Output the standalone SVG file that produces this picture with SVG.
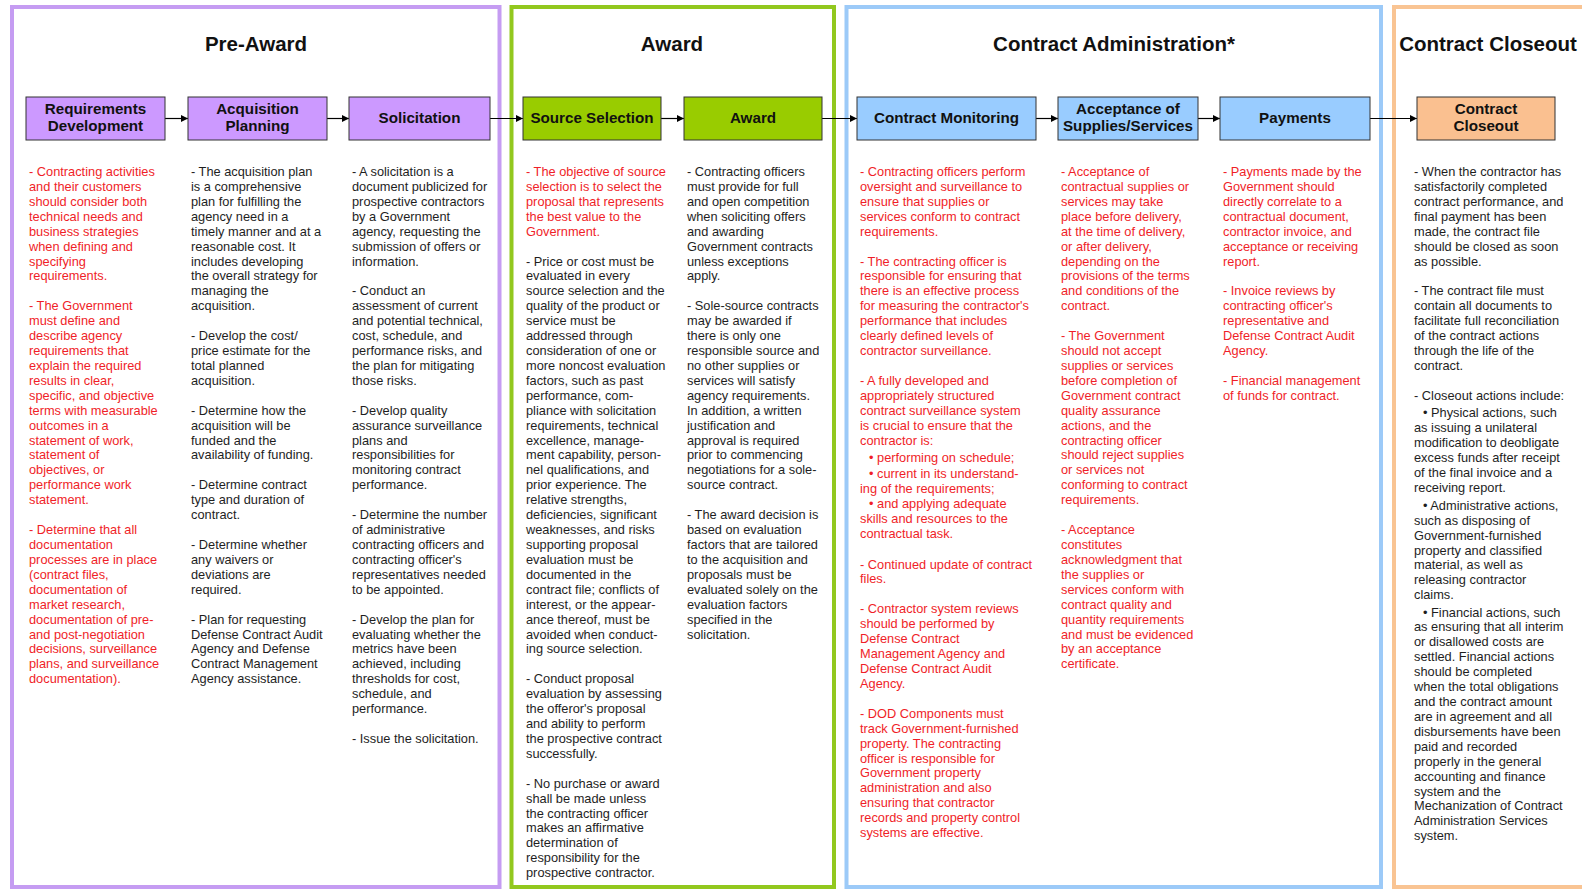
<svg xmlns="http://www.w3.org/2000/svg" width="1582" height="891" viewBox="0 0 1582 891">
<defs>
<marker id="ah" viewBox="0 0 10 10" refX="10" refY="5" markerWidth="7" markerHeight="7" markerUnits="userSpaceOnUse" orient="auto"><path d="M0,0 L10,5 L0,10 z" fill="#000"/></marker>
<style>
.panel{fill:none;stroke-width:4}
.hdr{font-family:"Liberation Sans",Arial,sans-serif;font-weight:bold;font-size:20.5px;fill:#111;text-anchor:middle}
.box{stroke:#333;stroke-width:1}
.bl{font-family:"Liberation Sans",Arial,sans-serif;font-weight:bold;font-size:15.2px;fill:#111;text-anchor:middle}
.tx{font-family:"Liberation Sans",Arial,sans-serif;font-size:12.8px}
.r{fill:#f01e28}
.k{fill:#1e1e1e}
.conn line{stroke:#000;stroke-width:1.2;marker-end:url(#ah)}
</style>
</defs>
<rect width="1582" height="891" fill="#fff"/>

<g id="phase-preaward">
<rect class="panel" x="12" y="7" width="487.5" height="880" stroke="#c59cf2"/>
<text class="hdr" x="256" y="50.5">Pre-Award</text>
</g>
<g id="phase-award">
<rect class="panel" x="511.5" y="7" width="322.5" height="880" stroke="#92c81e"/>
<text class="hdr" x="672" y="50.5">Award</text>
</g>
<g id="phase-admin">
<rect class="panel" x="846.5" y="7" width="534.5" height="880" stroke="#9ccaf8"/>
<text class="hdr" x="1114" y="50.5">Contract Administration*</text>
</g>
<g id="phase-closeout">
<rect class="panel" x="1394" y="7" width="200" height="880" stroke="#f9c493"/>
<text class="hdr" x="1488" y="50.5">Contract Closeout</text>
</g>

<g id="connectors" class="conn">
<line x1="165" y1="118.5" x2="188" y2="118.5"/>
<line x1="327" y1="118.5" x2="349" y2="118.5"/>
<line x1="490" y1="118.5" x2="523" y2="118.5"/>
<line x1="661" y1="118.5" x2="684" y2="118.5"/>
<line x1="822" y1="118.5" x2="857" y2="118.5"/>
<line x1="1036" y1="118.5" x2="1058" y2="118.5"/>
<line x1="1198" y1="118.5" x2="1220" y2="118.5"/>
<line x1="1370" y1="118.5" x2="1417" y2="118.5"/>
</g>

<g id="n-req">
<rect class="box" x="26" y="97" width="139" height="43" fill="#cc99ff"/>
<text class="bl" x="95.5" y="114">Requirements</text>
<text class="bl" x="95.5" y="131">Development</text>
<text class="tx r" x="29" y="176"><tspan x="29" dy="0">- Contracting activities</tspan><tspan x="29" dy="14.92">and their customers</tspan><tspan x="29" dy="14.92">should consider both</tspan><tspan x="29" dy="14.92">technical needs and</tspan><tspan x="29" dy="14.92">business strategies</tspan><tspan x="29" dy="14.92">when defining and</tspan><tspan x="29" dy="14.92">specifying</tspan><tspan x="29" dy="14.92">requirements.</tspan><tspan x="29" dy="29.84">- The Government</tspan><tspan x="29" dy="14.92">must define and</tspan><tspan x="29" dy="14.92">describe agency</tspan><tspan x="29" dy="14.92">requirements that</tspan><tspan x="29" dy="14.92">explain the required</tspan><tspan x="29" dy="14.92">results in clear,</tspan><tspan x="29" dy="14.92">specific, and objective</tspan><tspan x="29" dy="14.92">terms with measurable</tspan><tspan x="29" dy="14.92">outcomes in a</tspan><tspan x="29" dy="14.92">statement of work,</tspan><tspan x="29" dy="14.92">statement of</tspan><tspan x="29" dy="14.92">objectives, or</tspan><tspan x="29" dy="14.92">performance work</tspan><tspan x="29" dy="14.92">statement.</tspan><tspan x="29" dy="29.84">-  Determine that all</tspan><tspan x="29" dy="14.92">documentation</tspan><tspan x="29" dy="14.92">processes are in place</tspan><tspan x="29" dy="14.92">(contract files,</tspan><tspan x="29" dy="14.92">documentation of</tspan><tspan x="29" dy="14.92">market research,</tspan><tspan x="29" dy="14.92">documentation of pre-</tspan><tspan x="29" dy="14.92">and post-negotiation</tspan><tspan x="29" dy="14.92">decisions, surveillance</tspan><tspan x="29" dy="14.92">plans, and surveillance</tspan><tspan x="29" dy="14.92">documentation).</tspan></text>
</g>

<g id="n-acq">
<rect class="box" x="188" y="97" width="139" height="43" fill="#cc99ff"/>
<text class="bl" x="257.5" y="114">Acquisition</text>
<text class="bl" x="257.5" y="131">Planning</text>
<text class="tx k" x="191" y="176"><tspan x="191" dy="0">- The acquisition plan</tspan><tspan x="191" dy="14.92">is a comprehensive</tspan><tspan x="191" dy="14.92">plan for fulfilling the</tspan><tspan x="191" dy="14.92">agency need in a</tspan><tspan x="191" dy="14.92">timely manner and at a</tspan><tspan x="191" dy="14.92">reasonable cost. It</tspan><tspan x="191" dy="14.92">includes developing</tspan><tspan x="191" dy="14.92">the overall strategy for</tspan><tspan x="191" dy="14.92">managing the</tspan><tspan x="191" dy="14.92">acquisition.</tspan><tspan x="191" dy="29.84">- Develop the cost/</tspan><tspan x="191" dy="14.92">price estimate for the</tspan><tspan x="191" dy="14.92">total planned</tspan><tspan x="191" dy="14.92">acquisition.</tspan><tspan x="191" dy="29.84">- Determine how the</tspan><tspan x="191" dy="14.92">acquisition will be</tspan><tspan x="191" dy="14.92">funded and the</tspan><tspan x="191" dy="14.92">availability of funding.</tspan><tspan x="191" dy="29.84">- Determine contract</tspan><tspan x="191" dy="14.92">type and duration of</tspan><tspan x="191" dy="14.92">contract.</tspan><tspan x="191" dy="29.84">- Determine whether</tspan><tspan x="191" dy="14.92">any waivers or</tspan><tspan x="191" dy="14.92">deviations are</tspan><tspan x="191" dy="14.92">required.</tspan><tspan x="191" dy="29.84">- Plan for requesting</tspan><tspan x="191" dy="14.92">Defense Contract Audit</tspan><tspan x="191" dy="14.92">Agency and Defense</tspan><tspan x="191" dy="14.92">Contract Management</tspan><tspan x="191" dy="14.92">Agency assistance.</tspan></text>
</g>

<g id="n-sol">
<rect class="box" x="349" y="97" width="141" height="43" fill="#cc99ff"/>
<text class="bl" x="419.5" y="122.5">Solicitation</text>
<text class="tx k" x="352" y="176"><tspan x="352" dy="0">- A solicitation is a</tspan><tspan x="352" dy="14.92">document publicized for</tspan><tspan x="352" dy="14.92">prospective contractors</tspan><tspan x="352" dy="14.92">by a Government</tspan><tspan x="352" dy="14.92">agency, requesting the</tspan><tspan x="352" dy="14.92">submission of offers or</tspan><tspan x="352" dy="14.92">information.</tspan><tspan x="352" dy="29.84">- Conduct an</tspan><tspan x="352" dy="14.92">assessment of current</tspan><tspan x="352" dy="14.92">and potential technical,</tspan><tspan x="352" dy="14.92">cost, schedule, and</tspan><tspan x="352" dy="14.92">performance risks, and</tspan><tspan x="352" dy="14.92">the plan for mitigating</tspan><tspan x="352" dy="14.92">those risks.</tspan><tspan x="352" dy="29.84">- Develop quality</tspan><tspan x="352" dy="14.92">assurance surveillance</tspan><tspan x="352" dy="14.92">plans and</tspan><tspan x="352" dy="14.92">responsibilities for</tspan><tspan x="352" dy="14.92">monitoring contract</tspan><tspan x="352" dy="14.92">performance.</tspan><tspan x="352" dy="29.84">- Determine the number</tspan><tspan x="352" dy="14.92">of administrative</tspan><tspan x="352" dy="14.92">contracting officers and</tspan><tspan x="352" dy="14.92">contracting officer's</tspan><tspan x="352" dy="14.92">representatives needed</tspan><tspan x="352" dy="14.92">to be appointed.</tspan><tspan x="352" dy="29.84">- Develop the plan for</tspan><tspan x="352" dy="14.92">evaluating whether the</tspan><tspan x="352" dy="14.92">metrics have been</tspan><tspan x="352" dy="14.92">achieved, including</tspan><tspan x="352" dy="14.92">thresholds for cost,</tspan><tspan x="352" dy="14.92">schedule, and</tspan><tspan x="352" dy="14.92">performance.</tspan><tspan x="352" dy="29.84">- Issue the solicitation.</tspan></text>
</g>

<g id="n-srcsel">
<rect class="box" x="523" y="97" width="138" height="43" fill="#99cc00"/>
<text class="bl" x="592" y="122.5">Source Selection</text>
<text class="tx r" x="526" y="176"><tspan x="526" dy="0">- The objective of source</tspan><tspan x="526" dy="14.92">selection is to select the</tspan><tspan x="526" dy="14.92">proposal that represents</tspan><tspan x="526" dy="14.92">the best value to the</tspan><tspan x="526" dy="14.92">Government.</tspan></text>
<text class="tx k" x="526" y="265.5"><tspan x="526" dy="0">- Price or cost must be</tspan><tspan x="526" dy="14.92">evaluated in every</tspan><tspan x="526" dy="14.92">source selection and the</tspan><tspan x="526" dy="14.92">quality of the product or</tspan><tspan x="526" dy="14.92">service must be</tspan><tspan x="526" dy="14.92">addressed through</tspan><tspan x="526" dy="14.92">consideration of one or</tspan><tspan x="526" dy="14.92">more noncost evaluation</tspan><tspan x="526" dy="14.92">factors, such as past</tspan><tspan x="526" dy="14.92">performance, com-</tspan><tspan x="526" dy="14.92">pliance with solicitation</tspan><tspan x="526" dy="14.92">requirements, technical</tspan><tspan x="526" dy="14.92">excellence, manage-</tspan><tspan x="526" dy="14.92">ment capability, person-</tspan><tspan x="526" dy="14.92">nel qualifications, and</tspan><tspan x="526" dy="14.92">prior experience. The</tspan><tspan x="526" dy="14.92">relative strengths,</tspan><tspan x="526" dy="14.92">deficiencies, significant</tspan><tspan x="526" dy="14.92">weaknesses, and risks</tspan><tspan x="526" dy="14.92">supporting proposal</tspan><tspan x="526" dy="14.92">evaluation must be</tspan><tspan x="526" dy="14.92">documented in the</tspan><tspan x="526" dy="14.92">contract file; conflicts of</tspan><tspan x="526" dy="14.92">interest, or the appear-</tspan><tspan x="526" dy="14.92">ance thereof, must be</tspan><tspan x="526" dy="14.92">avoided when conduct-</tspan><tspan x="526" dy="14.92">ing source selection.</tspan><tspan x="526" dy="29.84">- Conduct proposal</tspan><tspan x="526" dy="14.92">evaluation by assessing</tspan><tspan x="526" dy="14.92">the offeror's proposal</tspan><tspan x="526" dy="14.92">and ability to perform</tspan><tspan x="526" dy="14.92">the prospective contract</tspan><tspan x="526" dy="14.92">successfully.</tspan><tspan x="526" dy="29.84">- No purchase or award</tspan><tspan x="526" dy="14.92">shall be made unless</tspan><tspan x="526" dy="14.92">the contracting officer</tspan><tspan x="526" dy="14.92">makes an affirmative</tspan><tspan x="526" dy="14.92">determination of</tspan><tspan x="526" dy="14.92">responsibility for the</tspan><tspan x="526" dy="14.92">prospective contractor.</tspan></text>
</g>

<g id="n-award">
<rect class="box" x="684" y="97" width="138" height="43" fill="#99cc00"/>
<text class="bl" x="753" y="122.5">Award</text>
<text class="tx k" x="687" y="176"><tspan x="687" dy="0">- Contracting officers</tspan><tspan x="687" dy="14.92">must provide for full</tspan><tspan x="687" dy="14.92">and open competition</tspan><tspan x="687" dy="14.92">when soliciting offers</tspan><tspan x="687" dy="14.92">and awarding</tspan><tspan x="687" dy="14.92">Government contracts</tspan><tspan x="687" dy="14.92">unless exceptions</tspan><tspan x="687" dy="14.92">apply.</tspan><tspan x="687" dy="29.84">- Sole-source contracts</tspan><tspan x="687" dy="14.92">may be awarded if</tspan><tspan x="687" dy="14.92">there is only one</tspan><tspan x="687" dy="14.92">responsible source and</tspan><tspan x="687" dy="14.92">no other supplies or</tspan><tspan x="687" dy="14.92">services will satisfy</tspan><tspan x="687" dy="14.92">agency requirements.</tspan><tspan x="687" dy="14.92">In addition, a written</tspan><tspan x="687" dy="14.92">justification and</tspan><tspan x="687" dy="14.92">approval is required</tspan><tspan x="687" dy="14.92">prior to commencing</tspan><tspan x="687" dy="14.92">negotiations for a sole-</tspan><tspan x="687" dy="14.92">source contract.</tspan><tspan x="687" dy="29.84">- The award decision is</tspan><tspan x="687" dy="14.92">based on evaluation</tspan><tspan x="687" dy="14.92">factors that are tailored</tspan><tspan x="687" dy="14.92">to the acquisition and</tspan><tspan x="687" dy="14.92">proposals must be</tspan><tspan x="687" dy="14.92">evaluated solely on the</tspan><tspan x="687" dy="14.92">evaluation factors</tspan><tspan x="687" dy="14.92">specified in the</tspan><tspan x="687" dy="14.92">solicitation.</tspan></text>
</g>

<g id="n-monitor">
<rect class="box" x="857" y="97" width="179" height="43" fill="#99ccff"/>
<text class="bl" x="946.5" y="122.5">Contract Monitoring</text>
<text class="tx r" x="860" y="176"><tspan x="860" dy="0">- Contracting officers perform</tspan><tspan x="860" dy="14.92">oversight and surveillance to</tspan><tspan x="860" dy="14.92">ensure that supplies or</tspan><tspan x="860" dy="14.92">services conform to contract</tspan><tspan x="860" dy="14.92">requirements.</tspan><tspan x="860" dy="29.84">- The contracting officer is</tspan><tspan x="860" dy="14.92">responsible for ensuring that</tspan><tspan x="860" dy="14.92">there is an effective process</tspan><tspan x="860" dy="14.92">for measuring the contractor's</tspan><tspan x="860" dy="14.92">performance that includes</tspan><tspan x="860" dy="14.92">clearly defined levels of</tspan><tspan x="860" dy="14.92">contractor surveillance.</tspan><tspan x="860" dy="29.84">- A fully developed and</tspan><tspan x="860" dy="14.92">appropriately structured</tspan><tspan x="860" dy="14.92">contract surveillance system</tspan><tspan x="860" dy="14.92">is crucial to ensure that the</tspan><tspan x="860" dy="14.92">contractor is:</tspan><tspan x="869" dy="17">• performing on schedule;</tspan><tspan x="869" dy="16">• current in its understand-</tspan><tspan x="860" dy="15">ing of the requirements;</tspan><tspan x="869" dy="15.5">• and applying adequate</tspan><tspan x="860" dy="15">skills and resources to the</tspan><tspan x="860" dy="15">contractual task.</tspan><tspan x="860" dy="30.5">- Continued update of contract</tspan><tspan x="860" dy="14.92">files.</tspan><tspan x="860" dy="29.84">- Contractor system reviews</tspan><tspan x="860" dy="14.92">should be performed by</tspan><tspan x="860" dy="14.92">Defense Contract</tspan><tspan x="860" dy="14.92">Management Agency and</tspan><tspan x="860" dy="14.92">Defense Contract Audit</tspan><tspan x="860" dy="14.92">Agency.</tspan><tspan x="860" dy="29.84">- DOD Components must</tspan><tspan x="860" dy="14.92">track Government-furnished</tspan><tspan x="860" dy="14.92">property.  The contracting</tspan><tspan x="860" dy="14.92">officer is responsible for</tspan><tspan x="860" dy="14.92">Government property</tspan><tspan x="860" dy="14.92">administration and also</tspan><tspan x="860" dy="14.92">ensuring that contractor</tspan><tspan x="860" dy="14.92">records and property control</tspan><tspan x="860" dy="14.92">systems are effective.</tspan></text>
</g>

<g id="n-accept">
<rect class="box" x="1058" y="97" width="140" height="43" fill="#99ccff"/>
<text class="bl" x="1128" y="114">Acceptance of</text>
<text class="bl" x="1128" y="131">Supplies/Services</text>
<text class="tx r" x="1061" y="176"><tspan x="1061" dy="0">- Acceptance of</tspan><tspan x="1061" dy="14.92">contractual supplies or</tspan><tspan x="1061" dy="14.92">services may take</tspan><tspan x="1061" dy="14.92">place before delivery,</tspan><tspan x="1061" dy="14.92">at the time of delivery,</tspan><tspan x="1061" dy="14.92">or after delivery,</tspan><tspan x="1061" dy="14.92">depending on the</tspan><tspan x="1061" dy="14.92">provisions of the terms</tspan><tspan x="1061" dy="14.92">and conditions of the</tspan><tspan x="1061" dy="14.92">contract.</tspan><tspan x="1061" dy="29.84">- The Government</tspan><tspan x="1061" dy="14.92">should not accept</tspan><tspan x="1061" dy="14.92">supplies or services</tspan><tspan x="1061" dy="14.92">before completion of</tspan><tspan x="1061" dy="14.92">Government contract</tspan><tspan x="1061" dy="14.92">quality assurance</tspan><tspan x="1061" dy="14.92">actions, and the</tspan><tspan x="1061" dy="14.92">contracting officer</tspan><tspan x="1061" dy="14.92">should reject supplies</tspan><tspan x="1061" dy="14.92">or services not</tspan><tspan x="1061" dy="14.92">conforming to contract</tspan><tspan x="1061" dy="14.92">requirements.</tspan><tspan x="1061" dy="29.84">- Acceptance</tspan><tspan x="1061" dy="14.92">constitutes</tspan><tspan x="1061" dy="14.92">acknowledgment that</tspan><tspan x="1061" dy="14.92">the supplies or</tspan><tspan x="1061" dy="14.92">services conform with</tspan><tspan x="1061" dy="14.92">contract quality and</tspan><tspan x="1061" dy="14.92">quantity requirements</tspan><tspan x="1061" dy="14.92">and must be evidenced</tspan><tspan x="1061" dy="14.92">by an acceptance</tspan><tspan x="1061" dy="14.92">certificate.</tspan></text>
</g>

<g id="n-pay">
<rect class="box" x="1220" y="97" width="150" height="43" fill="#99ccff"/>
<text class="bl" x="1295" y="122.5">Payments</text>
<text class="tx r" x="1223" y="176"><tspan x="1223" dy="0">- Payments made by the</tspan><tspan x="1223" dy="14.92">Government should</tspan><tspan x="1223" dy="14.92">directly correlate to a</tspan><tspan x="1223" dy="14.92">contractual document,</tspan><tspan x="1223" dy="14.92">contractor invoice, and</tspan><tspan x="1223" dy="14.92">acceptance or receiving</tspan><tspan x="1223" dy="14.92">report.</tspan><tspan x="1223" dy="29.84">- Invoice reviews by</tspan><tspan x="1223" dy="14.92">contracting officer's</tspan><tspan x="1223" dy="14.92">representative and</tspan><tspan x="1223" dy="14.92">Defense Contract Audit</tspan><tspan x="1223" dy="14.92">Agency.</tspan><tspan x="1223" dy="29.84">- Financial management</tspan><tspan x="1223" dy="14.92">of funds for contract.</tspan></text>
</g>

<g id="n-closeout">
<rect class="box" x="1417" y="97" width="138" height="43" fill="#fac090"/>
<text class="bl" x="1486" y="114">Contract</text>
<text class="bl" x="1486" y="131">Closeout</text>
<text class="tx k" x="1414" y="176"><tspan x="1414" dy="0">- When the contractor has</tspan><tspan x="1414" dy="14.92">satisfactorily completed</tspan><tspan x="1414" dy="14.92">contract performance, and</tspan><tspan x="1414" dy="14.92">final payment has been</tspan><tspan x="1414" dy="14.92">made, the contract file</tspan><tspan x="1414" dy="14.92">should be closed as soon</tspan><tspan x="1414" dy="14.92">as possible.</tspan><tspan x="1414" dy="29.84">- The contract file must</tspan><tspan x="1414" dy="14.92">contain all documents to</tspan><tspan x="1414" dy="14.92">facilitate full reconciliation</tspan><tspan x="1414" dy="14.92">of the contract actions</tspan><tspan x="1414" dy="14.92">through the life of the</tspan><tspan x="1414" dy="14.92">contract.</tspan><tspan x="1414" dy="29.84">- Closeout actions include:</tspan><tspan x="1423" dy="17.2">• Physical actions, such</tspan><tspan x="1414" dy="14.92">as issuing a unilateral</tspan><tspan x="1414" dy="14.92">modification to deobligate</tspan><tspan x="1414" dy="14.92">excess funds after receipt</tspan><tspan x="1414" dy="14.92">of the final invoice and a</tspan><tspan x="1414" dy="14.92">receiving report.</tspan><tspan x="1423" dy="18.2">• Administrative actions,</tspan><tspan x="1414" dy="14.92">such as disposing of</tspan><tspan x="1414" dy="14.92">Government-furnished</tspan><tspan x="1414" dy="14.92">property and classified</tspan><tspan x="1414" dy="14.92">material, as well as</tspan><tspan x="1414" dy="14.92">releasing contractor</tspan><tspan x="1414" dy="14.92">claims.</tspan><tspan x="1423" dy="17.2">• Financial actions, such</tspan><tspan x="1414" dy="14.92">as ensuring that all interim</tspan><tspan x="1414" dy="14.92">or disallowed costs are</tspan><tspan x="1414" dy="14.92">settled. Financial actions</tspan><tspan x="1414" dy="14.92">should be completed</tspan><tspan x="1414" dy="14.92">when the total obligations</tspan><tspan x="1414" dy="14.92">and the contract amount</tspan><tspan x="1414" dy="14.92">are in agreement and all</tspan><tspan x="1414" dy="14.92">disbursements have been</tspan><tspan x="1414" dy="14.92">paid and recorded</tspan><tspan x="1414" dy="14.92">properly in the general</tspan><tspan x="1414" dy="14.92">accounting and finance</tspan><tspan x="1414" dy="14.92">system and the</tspan><tspan x="1414" dy="14.92">Mechanization of Contract</tspan><tspan x="1414" dy="14.92">Administration Services</tspan><tspan x="1414" dy="14.92">system.</tspan></text>
</g>
</svg>
